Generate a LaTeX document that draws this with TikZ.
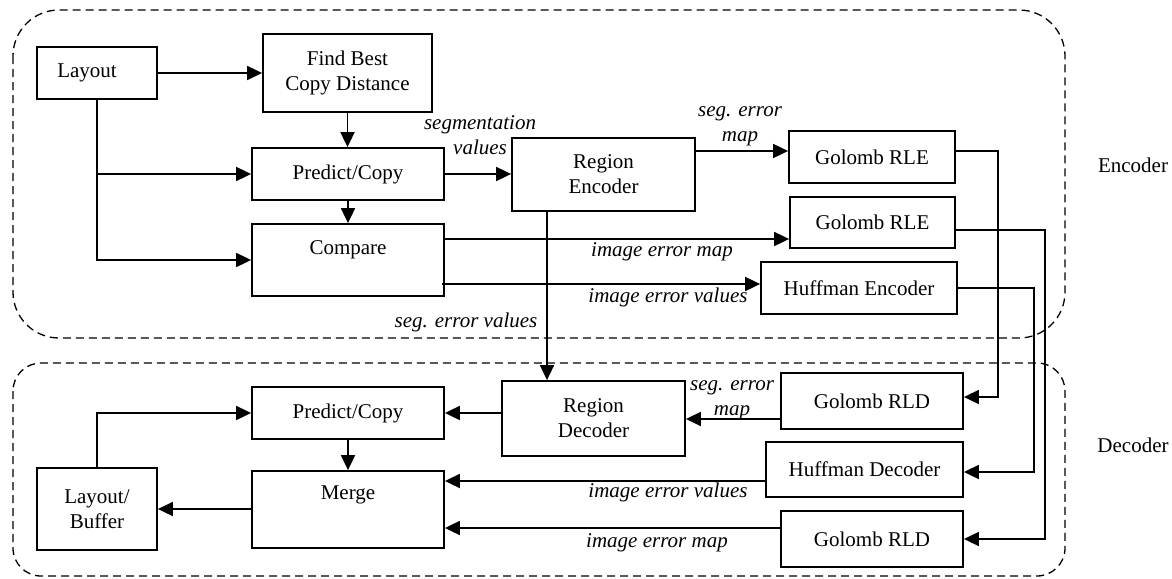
\documentclass[tikz,border=0pt]{standalone}
\usepackage{fontspec}
\setmainfont{Liberation Serif}
\usetikzlibrary{arrows.meta}

\tikzset{
  blk/.style={draw, line width=0.9pt, inner sep=0pt, align=center,
    font=\fontsize{10.5}{12.5}\selectfont},
  lbl/.style={inner sep=0pt, align=center, font=\fontsize{10.5}{12.5}\selectfont\itshape},
  wire/.style={line width=0.9pt, -{Triangle[length=7.5pt,width=7pt]}},
  grp/.style={line width=0.65pt, dash pattern=on 4pt off 2.5pt}
}

\begin{document}
\begin{tikzpicture}[x=0.5pt, y=-0.5pt]
    \useasboundingbox (0,0) rectangle (1172,578);
    % encoder and decoder areas
    \draw[grp, rounded corners=23pt] (13,10) rectangle (1065,338);
    \draw[grp, rounded corners=14pt] (13,363) rectangle (1065,576);
    \node[font=\fontsize{10.5}{12.5}\selectfont] (encT) at (1133,165) {Encoder};
    \node[font=\fontsize{10.5}{12.5}\selectfont] (decT) at (1133,445) {Decoder};

    % encoder blocks
    \node[blk, minimum width=60pt, minimum height=26pt] (layE) at (97,73) {Layout\hspace{10pt}};
    \node[blk, minimum width=84.5pt, minimum height=39pt] (fbcd) at (347.5,73) {Find Best\\Copy Distance};
    \node[blk, minimum width=96pt, minimum height=26pt] (pcE) at (348,174) {Predict/Copy};
    \node[blk, minimum width=96pt, minimum height=36pt, text depth=12pt] (cmp) at (348,260) {Compare};
    \node[blk, minimum width=91.5pt, minimum height=36.5pt] (renc) at (603.5,174.5) {Region\\Encoder};
    \node[blk, minimum width=83pt, minimum height=26pt] (grle1) at (872,157) {Golomb RLE};
    \node[blk, minimum width=82.5pt, minimum height=25.5pt] (grle2) at (872.5,222.5) {Golomb RLE};
    \node[blk, minimum width=98pt, minimum height=26pt] (huffE) at (859,288) {Huffman Encoder};

    % decoder blocks
    \node[blk, minimum width=96pt, minimum height=26pt] (pcD) at (348,413) {Predict/Copy};
    \node[blk, minimum width=96pt, minimum height=38.5pt, text depth=16.5pt] (mrg) at (348,509.5) {Merge};
    \node[blk, minimum width=60pt, minimum height=41pt] (lbuf) at (97,509) {Layout/\\Buffer};
    \node[blk, minimum width=91.5pt, minimum height=37.5pt] (rdec) at (593.5,418.5) {Region\\Decoder};
    \node[blk, minimum width=91pt, minimum height=28pt] (grld1) at (872,401) {Golomb RLD};
    \node[blk, minimum width=98.5pt, minimum height=27.5pt] (hufD) at (864.5,469.5) {Huffman Decoder};
    \node[blk, minimum width=91pt, minimum height=28pt] (grld2) at (872,539) {Golomb RLD};

    % labels
    \node[lbl] (segv) at (480,135.5) {segmentation\\values};
    \node[lbl] (semE) at (740,126) {seg. error\\map};
    \node[lbl] (iemE) at (662,252) {image error map};
    \node[lbl] (ievE) at (668,297) {image error values};
    \node[lbl] (sev) at (466,322) {seg. error values};
    \node[lbl] (semD) at (732,400) {seg. error\\map};
    \node[lbl] (ievD) at (668,492) {image error values};
    \node[lbl] (iemD) at (657,543) {image error map};

    % encoder connections
    \draw[wire] (layE) -- (fbcd);
    \draw[wire] (fbcd.south) -- (fbcd.south |- pcE.north);
    \draw[wire] (pcE) -- (cmp);
    \draw[wire] (layE.south) |- (cmp.west);
    \draw[wire] (layE.south |- pcE.west) -- (pcE.west);
    \draw[wire] (pcE.east) -- (renc.west |- pcE.east);
    \draw[wire] (renc.east |- 0,151) -- (grle1.west |- 0,151);
    \draw[wire] (cmp.east |- 0,239) -- (grle2.west |- 0,239);
    \draw[wire] ([xshift=-1.5pt]cmp.east |- 0,284) -- (huffE.west |- 0,284);
    \draw[wire] (renc.south -| 547,0) -- (rdec.north -| 547,0);

    % encoder to decoder
    \draw[wire] (grle1.east |- 0,151) -- ++(42,0) |- (grld1.east |- 0,397);
    \draw[wire] (grle2.east |- 0,230) -- ++(89,0) |- (grld2.east);
    \draw[wire] (huffE.east) -- ++(76,0) |- (hufD.east |- 0,472);

    % decoder connections
    \draw[wire] (grld1.west |- 0,419) -- (rdec.east |- 0,419);
    \draw[wire] (hufD.west |- 0,481) -- (mrg.east |- 0,481);
    \draw[wire] (grld2.west |- 0,528) -- (mrg.east |- 0,528);
    \draw[wire] (rdec.west |- 0,413) -- (pcD.east);
    \draw[wire] (pcD) -- (mrg);
    \draw[wire] (mrg.west |- 0,509) -- (lbuf.east);
    \draw[wire] (lbuf.north) |- (pcD.west);
\end{tikzpicture}
\end{document}
